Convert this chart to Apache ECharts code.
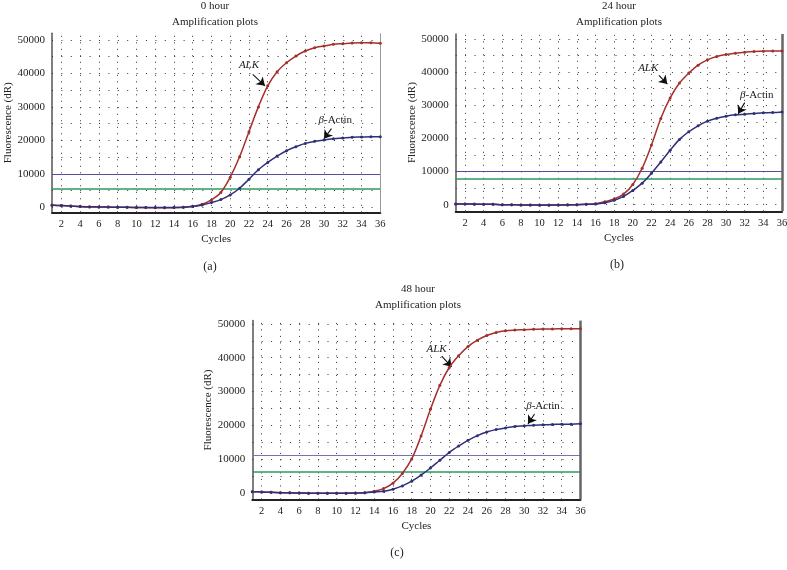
<!DOCTYPE html>
<html><head><meta charset="utf-8">
<script src="https://cdn.jsdelivr.net/npm/echarts@6/dist/echarts.min.js"></script>
<style>html,body{margin:0;padding:0;background:#fff}#c{width:787px;height:570px}</style>
</head><body><div id="c"></div>
<script>
// ---------- data ----------
const cycles = [1,2,3,4,5,6,7,8,9,10,11,12,13,14,15,16,17,18,19,20,21,22,23,24,25,26,27,28,29,30,31,32,33,34,35,36];
const xTickLabels = [2,4,6,8,10,12,14,16,18,20,22,24,26,28,30,32,34,36];
const yTickLabels = [0,10000,20000,30000,40000,50000];
const yGridValues = [0,5000,10000,15000,20000,25000,30000,35000,40000,45000,50000];
const panelTitles = ['0 hour','24 hour','48 hour'];
const subTitle = 'Amplification plots';
const captions = ['(a)','(b)','(c)'];

const alk0h = [700,500,400,200,100,100,50,0,0,-50,-100,-150,-150,-100,0,300,900,2200,4400,9000,15100,22600,30000,36300,40500,43200,45200,46700,47700,48200,48700,48900,49100,49200,49200,49000];
const actin0h = [600,500,350,200,150,100,50,0,0,-50,-100,-100,-100,-100,0,200,700,1400,2300,3700,5700,8400,11200,13400,15300,16900,18100,19100,19700,20100,20500,20700,20900,21000,21100,21100];
const alk24h = [200,200,200,100,100,0,0,-100,-100,-150,-150,-100,-100,0,100,300,900,1700,3200,6100,11000,18000,26000,32200,36700,39700,42100,43700,44700,45300,45700,46000,46200,46300,46400,46400];
const actin24h = [200,200,150,100,100,0,0,-100,-100,-100,-100,-100,-50,0,100,200,600,1300,2500,4300,6500,9500,12900,16400,19700,22000,23800,25200,26100,26700,27100,27300,27500,27700,27800,28000];
const alk48h = [300,200,100,0,-50,-100,-150,-200,-200,-200,-200,-150,0,400,1200,2800,5700,10000,16800,24700,31800,37100,40600,43300,45200,46600,47500,48000,48200,48300,48400,48500,48500,48600,48600,48600];
const actin48h = [300,200,100,0,-50,-100,-150,-150,-200,-200,-150,-100,0,200,400,1000,2000,3400,5200,7300,9600,11900,13800,15500,16900,18000,18700,19200,19600,19800,20000,20100,20200,20300,20300,20400];

const blueThreshold = [10000,10000,11000];
const greenThreshold = [5600,7800,6100];

// annotation anchors in data space: [cycle, fluorescence]
const alkLabelAt = [[22.0,42500],[21.65,41200],[20.65,42500]];
const alkArrowFrom = [[22.4,39700],[22.8,39000],[21.2,40500]];
const alkArrowTo = [[23.7,36300],[23.7,36400],[22.25,37300]];
const actinLabelAt = [[31.2,26100],[33.3,33100],[32.0,25700]];
const actinArrowFrom = [[30.8,23500],[32.0,30800],[31.1,23300]];
const actinArrowTo = [[30.0,20500],[31.3,27400],[30.4,20400]];

const alkSets = [alk0h, alk24h, alk48h];
const actinSets = [actin0h, actin24h, actin48h];

// ---------- layout / style ----------
const FONT = 'Liberation Serif';
const TXT = '#222';
const RED = '#a3302c';
const NAVY = '#2f2f78';
const layout = [
  {left:52, top:33.3, width:328.3, height:179, ymin:-1500, ymax:52000, border:{color:'#999', width:1}, tx:215, ty:6, cx:210, cy:266.7, blue:'#4f4f9a'},
  {left:455.7, top:34, width:326.3, height:177.3, ymin:-2000, ymax:51500, border:{color:'#666', width:2.5}, tx:619, ty:6, cx:617, cy:265, blue:'#4f4f9a'},
  {left:252.3, top:320.6, width:328.2, height:178.8, ymin:-2000, ymax:51000, border:{color:'#666', width:2.5}, tx:418, ty:289, cx:397, cy:553, blue:'#7373b8'}
];

const grid = [], xAxis = [], yAxis = [], series = [], graphic = [];
layout.forEach((L, i) => {
  grid.push({left:L.left, top:L.top, width:L.width, height:L.height, containLabel:false, outerBoundsMode:'none'});
  xAxis.push({
    gridIndex:i, type:'value', min:1, max:36,
    axisLine:{show:true, onZero:false, lineStyle:{color:'#222', width:2}},
    axisTick:{show:false, customValues:xTickLabels},
    splitLine:{show:false},
    axisLabel:{customValues:xTickLabels, formatter:v => String(v), fontFamily:FONT, fontSize:10.5, color:TXT, margin:6},
    name:'Cycles', nameLocation:'middle', nameGap:21,
    nameTextStyle:{fontFamily:FONT, fontSize:11, color:TXT}
  });
  yAxis.push({
    gridIndex:i, type:'value', min:L.ymin, max:L.ymax,
    axisLine:{show:true, lineStyle:{color:'#555', width:1.5}},
    axisTick:{show:false, customValues:yTickLabels},
    splitLine:{show:false},
    axisLabel:{customValues:yTickLabels, formatter:v => String(v), fontFamily:FONT, fontSize:11, color:TXT, margin:7},
    name:'Fluorescence (dR)', nameLocation:'middle', nameGap:34, nameRotate:90,
    nameTextStyle:{fontFamily:FONT, fontSize:11, color:TXT}
  });
  // dotted grid
  series.push({
    type:'line', xAxisIndex:i, yAxisIndex:i, data:[], silent:true, z:1,
    markLine:{silent:true, symbol:['none','none'], label:{show:false}, animation:false,
      data:[].concat(
        yGridValues.map(v => ({yAxis:v, lineStyle:{type:[1,8.4], color:'#333', width:1}})),
        xTickLabels.map(v => ({xAxis:v, lineStyle:{type:[1,5.5], color:'#333', width:1}}))
      )}
  });
  // thresholds + right border
  series.push({
    type:'line', xAxisIndex:i, yAxisIndex:i, data:[], silent:true, z:2,
    markLine:{silent:true, symbol:['none','none'], label:{show:false}, animation:false,
      data:[
        {yAxis:greenThreshold[i], lineStyle:{type:'solid', color:'#2f9a62', width:1.5}},
        {yAxis:blueThreshold[i], lineStyle:{type:'solid', color:L.blue, width:1.2}},
        {xAxis:36, lineStyle:{type:'solid', color:L.border.color, width:L.border.width}}
      ]}
  });
  const mkSeries = (vals, color, name, labelAt, from, to, fmt, rich) => ({
    type:'line', name:name, xAxisIndex:i, yAxisIndex:i, z:5,
    data: cycles.map((c, j) => [c, vals[j]]),
    smooth:0.35, symbol:'circle', symbolSize:3, showSymbol:true,
    lineStyle:{color:color, width:1.5}, itemStyle:{color:color},
    markPoint:{silent:true, animation:false, symbol:'circle', symbolSize:1, itemStyle:{color:'rgba(0,0,0,0)'},
      label:{show:true, position:'inside', formatter:fmt, fontFamily:FONT, fontSize:11, color:TXT, rich:rich},
      data:[{coord:labelAt}]},
    markLine:{silent:true, animation:false, symbol:['none','arrow'], symbolSize:8, label:{show:false},
      itemStyle:{color:'#111'},
      lineStyle:{type:'solid', color:'#111', width:1.1},
      data:[[{coord:from},{coord:to}]]}
  });
  series.push(mkSeries(alkSets[i], RED, 'ALK', alkLabelAt[i], alkArrowFrom[i], alkArrowTo[i],
    '{i|ALK}', {i:{fontStyle:'italic', fontFamily:FONT, fontSize:11, color:TXT}}));
  series.push(mkSeries(actinSets[i], NAVY, 'β-Actin', actinLabelAt[i], actinArrowFrom[i], actinArrowTo[i],
    '{i|β}-Actin', {i:{fontStyle:'italic', fontFamily:FONT, fontSize:11, color:TXT}}));
  graphic.push({type:'text', x:L.tx, y:L.ty, style:{text:panelTitles[i], font:'11px "Liberation Serif"', fill:TXT, textAlign:'center', textVerticalAlign:'middle'}});
  graphic.push({type:'text', x:L.tx, y:L.ty+16.5, style:{text:subTitle, font:'11px "Liberation Serif"', fill:TXT, textAlign:'center', textVerticalAlign:'middle'}});
  graphic.push({type:'text', x:L.cx, y:L.cy, style:{text:captions[i], font:'12px "Liberation Serif"', fill:TXT, textAlign:'center', textVerticalAlign:'middle'}});
});

const chart = echarts.init(document.getElementById('c'), null, {renderer:'canvas'});
chart.setOption({
  backgroundColor:'#fff',
  animation:false,
  textStyle:{fontFamily:FONT},
  grid, xAxis, yAxis, series, graphic
});
</script>
</body></html>
